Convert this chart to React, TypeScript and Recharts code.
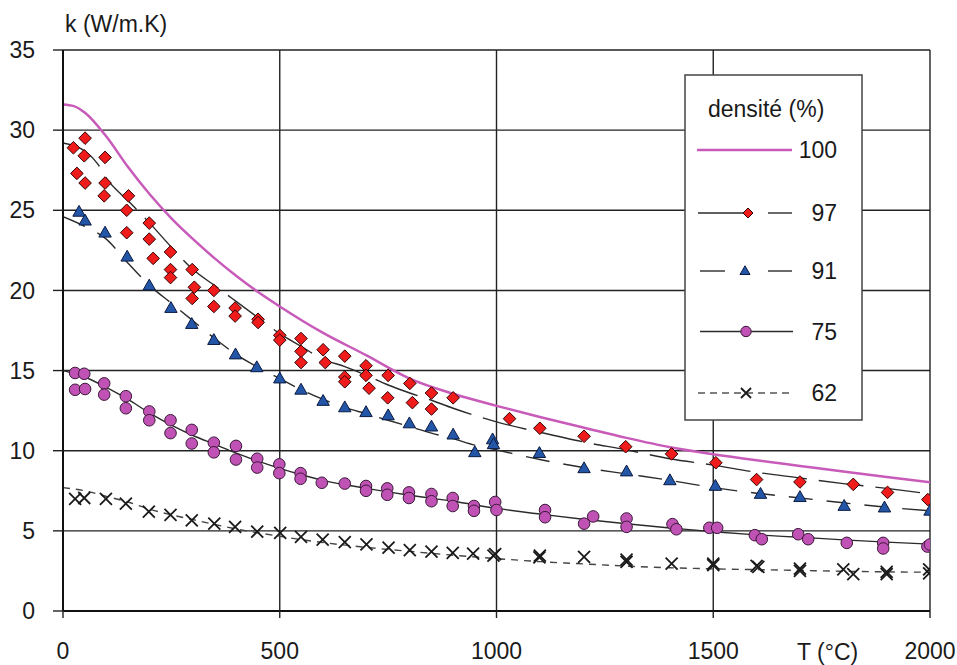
import { ComposedChart, Line, Scatter, XAxis, YAxis, CartesianGrid } from "recharts";

const X_TICKS = [0, 500, 1000, 1500, 2000];
const Y_TICKS = [0, 5, 10, 15, 20, 25, 30, 35];

type Pt = [number, number]; // [T (°C), k (W/m.K)]

// measured points, density 97 %
const pts97: Pt[] = [
  [24, 28.9], [51, 29.5], [49, 28.4], [97, 28.3], [32, 27.3], [51, 26.7], [97, 26.7],
  [95, 25.9], [151, 25.9], [147, 25.0], [147, 23.6], [199, 24.2], [199, 23.2], [208, 22.0],
  [248, 22.4], [248, 21.3], [248, 20.8], [298, 21.3], [303, 20.2], [298, 19.5], [348, 20.0],
  [348, 19.0], [397, 18.9], [397, 18.4], [450, 18.2], [450, 18.0], [500, 17.2], [500, 16.9],
  [549, 17.0], [549, 16.2], [549, 15.5], [600, 16.3], [605, 15.5], [650, 15.9], [650, 14.6],
  [650, 14.3], [699, 15.3], [699, 14.7], [706, 13.9], [750, 14.7], [749, 13.3], [800, 14.2],
  [806, 13.0], [850, 13.6], [850, 12.6], [900, 13.3], [1030, 12.0], [1100, 11.4], [1202, 10.9],
  [1298, 10.25], [1404, 9.8], [1506, 9.25], [1600, 8.2], [1700, 8.05], [1823, 7.9],
  [1902, 7.4], [1995, 6.95],
];

// density 91 %
const pts91: Pt[] = [
  [37, 24.9], [51, 24.35], [97, 23.6], [148, 22.1], [199, 20.3], [249, 18.9], [297, 17.9],
  [348, 16.9], [398, 16.0], [447, 15.2], [500, 14.5], [549, 13.8], [600, 13.1], [650, 12.7],
  [699, 12.4], [750, 12.2], [799, 11.7], [850, 11.5], [900, 11.0], [950, 9.9], [991, 10.7],
  [993, 10.4], [1099, 9.85], [1202, 8.9], [1300, 8.7], [1400, 8.15], [1505, 7.8], [1609, 7.3],
  [1700, 7.1], [1802, 6.55], [1895, 6.45], [2000, 6.25],
];

// density 75 %
const pts75: Pt[] = [
  [28, 14.85], [49, 14.8], [28, 13.8], [51, 13.85], [95, 14.2], [95, 13.5], [145, 13.4],
  [145, 12.65], [199, 12.45], [199, 11.9], [248, 11.9], [248, 11.1], [297, 11.3], [297, 10.45],
  [348, 10.5], [348, 9.9], [399, 10.3], [399, 9.45], [448, 9.5], [448, 8.95], [499, 9.15],
  [499, 8.6], [548, 8.6], [548, 8.25], [597, 8.0], [650, 7.95], [699, 7.8], [699, 7.5],
  [748, 7.65], [748, 7.25], [798, 7.4], [798, 7.05], [850, 7.3], [850, 6.85], [899, 7.05],
  [899, 6.55], [948, 6.55], [948, 6.25], [997, 6.8], [1000, 6.3], [1112, 6.3], [1112, 5.85],
  [1202, 5.45], [1223, 5.9], [1300, 5.77], [1300, 5.25], [1406, 5.42], [1415, 5.1],
  [1491, 5.19], [1509, 5.19], [1596, 4.73], [1612, 4.48], [1696, 4.79], [1719, 4.48],
  [1808, 4.25], [1892, 4.25], [1892, 3.9], [1994, 4.02], [2000, 4.15],
];

// density 62 %
const pts62: Pt[] = [
  [28, 7.0], [49, 7.05], [99, 7.0], [145, 6.7], [198, 6.2], [248, 6.0], [297, 5.65],
  [349, 5.45], [397, 5.25], [448, 4.95], [501, 4.88], [549, 4.63], [599, 4.45], [650, 4.3],
  [700, 4.15], [751, 3.96], [800, 3.8], [850, 3.7], [899, 3.63], [946, 3.58], [997, 3.55],
  [993, 3.45], [1099, 3.35], [1100, 3.45], [1202, 3.38], [1300, 3.06], [1300, 3.2],
  [1404, 2.96], [1500, 2.86], [1500, 2.95], [1604, 2.75], [1600, 2.82], [1700, 2.65],
  [1700, 2.5], [1800, 2.59], [1823, 2.3], [1900, 2.44], [1900, 2.3], [1998, 2.6], [1998, 2.35],
];

// fitted curves
const fit100: Pt[] = [
  [0, 31.6], [25, 31.5], [50, 31.1], [100, 29.6], [150, 27.7], [200, 26.0], [250, 24.5],
  [300, 23.2], [350, 22.0], [400, 20.9], [450, 19.9], [500, 19.0], [600, 17.35], [700, 15.95],
  [800, 14.5], [900, 13.55], [1000, 12.8], [1100, 12.1], [1200, 11.45], [1300, 10.8],
  [1400, 10.22], [1500, 9.78], [1600, 9.4], [1700, 9.05], [1800, 8.7], [1900, 8.36], [2000, 8.03],
];
const fit97: Pt[] = [
  [0, 29.2], [50, 28.7], [80, 27.9], [100, 27.0], [150, 25.6], [200, 24.2], [250, 22.7],
  [300, 21.3], [350, 20.3], [400, 19.3], [450, 18.3], [500, 17.3], [550, 16.5], [600, 15.7],
  [650, 15.25], [700, 14.7], [750, 14.1], [800, 13.6], [850, 13.15], [900, 12.65], [1000, 11.8],
  [1100, 11.15], [1200, 10.55], [1300, 10.05], [1400, 9.5], [1500, 9.1], [1600, 8.65],
  [1700, 8.3], [1800, 7.95], [1900, 7.65], [2000, 7.3],
];
const fit91: Pt[] = [
  [0, 24.6], [50, 24.0], [100, 23.2], [150, 21.7], [200, 20.3], [250, 19.2], [300, 18.1],
  [350, 17.0], [400, 16.0], [450, 15.2], [500, 14.5], [550, 13.8], [600, 13.2], [650, 12.7],
  [700, 12.3], [750, 11.9], [800, 11.5], [850, 11.1], [900, 10.75], [950, 10.35], [1000, 10.05],
  [1100, 9.45], [1200, 8.95], [1300, 8.55], [1400, 8.15], [1500, 7.7], [1600, 7.35],
  [1700, 7.05], [1800, 6.75], [1900, 6.47], [2000, 6.25],
];
const fit75: Pt[] = [
  [0, 15.0], [50, 14.6], [100, 13.95], [150, 13.2], [200, 12.35], [250, 11.6], [300, 10.95],
  [350, 10.4], [400, 9.85], [450, 9.35], [500, 8.9], [550, 8.5], [600, 8.15], [700, 7.65],
  [800, 7.22], [900, 6.85], [1000, 6.4], [1100, 6.05], [1200, 5.72], [1300, 5.44], [1400, 5.18],
  [1500, 4.94], [1600, 4.75], [1700, 4.6], [1800, 4.44], [1900, 4.3], [2000, 4.17],
];
const fit62: Pt[] = [
  [0, 7.7], [50, 7.5], [100, 7.15], [150, 6.8], [200, 6.35], [250, 6.0], [300, 5.7],
  [350, 5.4], [400, 5.12], [450, 4.88], [500, 4.66], [600, 4.27], [700, 3.97], [800, 3.72],
  [900, 3.48], [1000, 3.27], [1100, 3.08], [1200, 2.94], [1300, 2.8], [1400, 2.7],
  [1500, 2.63], [1600, 2.58], [1700, 2.53], [1800, 2.48], [1900, 2.44], [2000, 2.42],
];

const FONT = "'Liberation Sans', Arial, sans-serif";
const TEXT = "#1a1a1a";
const GRID = "#222";
const FIT = "#2b2b2b";
const MAGENTA_LINE = "#c85ab9";
const RED = "#f01c1c";
const BLUE = "#2456a8";
const PURPLE = "#c052b5";

const toRows = (pts: Pt[]) => pts.map(([T, k]) => ({ T, k }));

function diamond(cx: number, cy: number, s: number) {
  return (
    <path
      d={`M${cx},${cy - s}L${cx + s},${cy}L${cx},${cy + s}L${cx - s},${cy}Z`}
      fill={RED}
      stroke="#300"
      strokeWidth={1}
    />
  );
}
function triangle(cx: number, cy: number, s: number) {
  const h = s * 1.75;
  return (
    <path
      d={`M${cx},${cy - h * 0.6}L${cx + s},${cy + h * 0.4}L${cx - s},${cy + h * 0.4}Z`}
      fill={BLUE}
      stroke="#0a1a40"
      strokeWidth={1}
    />
  );
}
function circle(cx: number, cy: number, r: number) {
  return <circle cx={cx} cy={cy} r={r} fill={PURPLE} stroke="#3a1838" strokeWidth={1} />;
}
function cross(cx: number, cy: number, s: number) {
  return (
    <path
      d={`M${cx - s},${cy - s}L${cx + s},${cy + s}M${cx - s},${cy + s}L${cx + s},${cy - s}`}
      stroke="#1a1a1a"
      strokeWidth={1.8}
      fill="none"
    />
  );
}

const DiamondShape = (p: any) => diamond(p.cx, p.cy, 6.3);
const TriangleShape = (p: any) => triangle(p.cx, p.cy, 6.2);
const CircleShape = (p: any) => circle(p.cx, p.cy, 5.8);
const CrossShape = (p: any) => cross(p.cx, p.cy, 6);

function Overlay() {
  const rows = [150, 213, 271, 331.5, 393];
  const labels = ["100", "97", "91", "75", "62"];
  return (
    <svg
      width={957}
      height={665}
      style={{ position: "absolute", left: 0, top: 0, pointerEvents: "none" }}
      fontFamily={FONT}
      fontSize={23}
      fill={TEXT}
    >
      <text x={65} y={32}>k (W/m.K)</text>
      <text x={797} y={660}>T (°C)</text>

      <rect x={685} y={75} width={177} height={345} fill="#fff" stroke="#444" strokeWidth={1.5} />
      <text x={708} y={117}>densité (%)</text>

      <line x1={697} x2={792} y1={rows[0]} y2={rows[0]} stroke={MAGENTA_LINE} strokeWidth={2.5} />

      <line x1={698} x2={745} y1={rows[1]} y2={rows[1]} stroke={FIT} strokeWidth={1.4} />
      <line x1={768} x2={792} y1={rows[1]} y2={rows[1]} stroke={FIT} strokeWidth={1.4} />
      {diamond(748, rows[1], 5)}

      <line x1={700} x2={725} y1={rows[2]} y2={rows[2]} stroke={FIT} strokeWidth={1.4} />
      <line x1={768} x2={792} y1={rows[2]} y2={rows[2]} stroke={FIT} strokeWidth={1.4} />
      {triangle(745, rows[2], 5)}

      <line x1={700} x2={793} y1={rows[3]} y2={rows[3]} stroke={FIT} strokeWidth={1.4} />
      {circle(746, rows[3], 5.2)}

      <line
        x1={698}
        x2={793}
        y1={rows[4]}
        y2={rows[4]}
        stroke="#555"
        strokeWidth={1.4}
        strokeDasharray="7 5"
      />
      {cross(746, rows[4], 5)}

      {labels.map((l, i) => (
        <text key={l} x={837} y={rows[i] + 8} textAnchor="end">
          {l}
        </text>
      ))}
    </svg>
  );
}

export default function App() {
  const tick = { fontSize: 23, fill: TEXT, fontFamily: FONT };
  return (
    <div style={{ position: "absolute", left: 0, top: 0, width: 957, height: 665, background: "#fff" }}>
      <ComposedChart width={957} height={665} margin={{ top: 50, right: 27, bottom: 0, left: 0 }}>
        <CartesianGrid stroke={GRID} strokeWidth={1.4} />
        <XAxis
          type="number"
          dataKey="T"
          domain={[0, 2000]}
          ticks={X_TICKS}
          allowDataOverflow
          height={54}
          tickSize={7}
          tickMargin={25}
          tick={tick}
          axisLine={{ stroke: "#111", strokeWidth: 2 }}
          tickLine={{ stroke: GRID, strokeWidth: 1.4 }}
        />
        <YAxis
          type="number"
          dataKey="k"
          domain={[0, 35]}
          ticks={Y_TICKS}
          allowDataOverflow
          width={63}
          tickSize={10}
          tickMargin={18}
          tick={tick}
          axisLine={{ stroke: "#111", strokeWidth: 2 }}
          tickLine={{ stroke: GRID, strokeWidth: 1.4 }}
        />

        <Line data={toRows(fit100)} dataKey="k" type="monotone" stroke={MAGENTA_LINE} strokeWidth={2.5}
          dot={false} activeDot={false} isAnimationActive={false} />
        <Line data={toRows(fit97)} dataKey="k" type="monotone" stroke={FIT} strokeWidth={1.4}
          strokeDasharray="45 12" dot={false} activeDot={false} isAnimationActive={false} />
        <Line data={toRows(fit91)} dataKey="k" type="monotone" stroke={FIT} strokeWidth={1.4}
          strokeDasharray="24 14" dot={false} activeDot={false} isAnimationActive={false} />
        <Line data={toRows(fit75)} dataKey="k" type="monotone" stroke={FIT} strokeWidth={1.4}
          dot={false} activeDot={false} isAnimationActive={false} />
        <Line data={toRows(fit62)} dataKey="k" type="monotone" stroke="#444" strokeWidth={1.4}
          strokeDasharray="7 6" dot={false} activeDot={false} isAnimationActive={false} />

        <Scatter data={toRows(pts97)} dataKey="k" shape={DiamondShape} isAnimationActive={false} />
        <Scatter data={toRows(pts91)} dataKey="k" shape={TriangleShape} isAnimationActive={false} />
        <Scatter data={toRows(pts75)} dataKey="k" shape={CircleShape} isAnimationActive={false} />
        <Scatter data={toRows(pts62)} dataKey="k" shape={CrossShape} isAnimationActive={false} />
      </ComposedChart>
      <Overlay />
    </div>
  );
}
